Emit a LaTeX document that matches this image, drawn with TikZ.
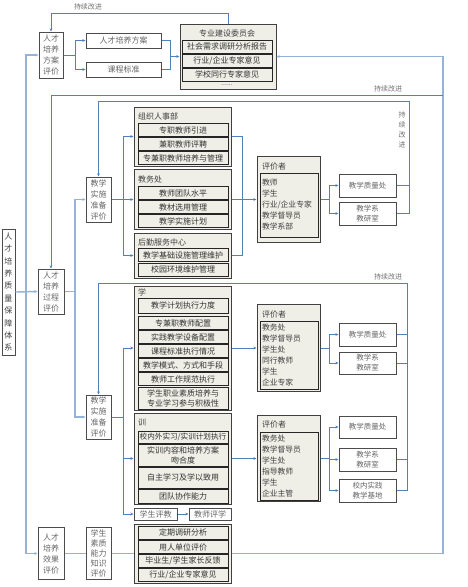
\documentclass[tikz,border=0pt]{standalone}
\usepackage{fontspec}
\setmainfont{Noto Sans CJK SC}
\usetikzlibrary{arrows.meta,positioning}

\definecolor{linkblue}{RGB}{79,129,189}
\definecolor{buslight}{RGB}{149,179,215}
\definecolor{panel}{RGB}{239,239,231}

\begin{document}
\begin{tikzpicture}[x=1pt,y=-1pt,>={Stealth[length=3.2pt,width=2.8pt]},
    plain box/.style={draw=black!70,line width=1pt,fill=white,inner sep=0pt,align=center,
                      text=black!60,font=\fontsize{8}{11}\selectfont},
    side box/.style={plain box,minimum width=25pt},
    group box/.style={draw=black!75,line width=1pt,fill=panel,inner sep=0pt,minimum width=97pt},
    item/.style={draw=black!85,line width=0.9pt,fill=panel,inner sep=0pt,align=center,text=black!80,
                 minimum width=90pt,minimum height=13pt,font=\fontsize{8}{10}\selectfont},
    head/.style={anchor=west,inner sep=0pt,text=black!75,font=\fontsize{8}{10}\selectfont},
    judge box/.style={group box,minimum width=63pt,minimum height=86pt},
    judge list/.style={draw=black!85,line width=0.9pt,fill=panel,inner sep=0pt,text width=54pt,align=left,
                       minimum width=58pt,text=black!75,font=\fontsize{7.8}{11}\selectfont},
    office/.style={plain box,minimum width=57pt,minimum height=23pt,font=\fontsize{7.5}{10}\selectfont},
    note/.style={inner sep=0pt,text=black!55,font=\fontsize{7}{9}\selectfont,align=center},
    link/.style={draw=linkblue,line width=0.8pt},
    bus/.style={draw=buslight,line width=1.4pt}]
  \fill[white] (0,0) rectangle (467,587);
  \useasboundingbox (0,0) rectangle (467,587);

  % top row
  \node[side box,minimum width=24pt,minimum height=46pt] (fa) at (51,55) {人才\\培养\\方案\\评价};
  \node[plain box,minimum width=75pt,minimum height=15pt] (pa) at (123.5,40.5) {人才培养方案};
  \node[plain box,minimum width=75pt,minimum height=15pt] (kc) at (123.5,69.5) {课程标准};
  \node[group box,minimum width=96pt,minimum height=65pt] (cm) at (228,56.5) {};
  \node[head,anchor=center] (cmt) at (227,33) {专业建设委员会};
  \node[item] (cm1) at (227,46.5) {社会需求调研分析报告};
  \node[item] (cm2) at (227,60.5) {行业/企业专家意见};
  \node[item] (cm3) at (227,74.5) {学校同行专家意见};
  \node[note,text=black!70] (cmd) at (227,85.5) {......};

  % left column
  \node[side box,minimum width=13pt,minimum height=126pt,font=\fontsize{8}{12.4}\selectfont,text=black!75] (sys) at (8.5,292) {人\\才\\培\\养\\质\\量\\保\\障\\体\\系};
  \node[side box,minimum width=26pt,minimum height=45pt] (gc) at (51,291.5) {人才\\培养\\过程\\评价};
  \node[side box,minimum width=26pt,minimum height=52pt] (ef) at (51,553.5) {人才\\培养\\效果\\评价};

  % second column
  \node[side box,minimum height=45pt] (zb1) at (98.5,199.5) {教学\\实施\\准备\\评价};
  \node[side box,minimum height=44pt] (zb2) at (98.5,417) {教学\\实施\\准备\\评价};
  \node[side box,minimum height=52pt,font=\fontsize{8}{10}\selectfont] (sz) at (98.5,553.5) {学生\\素质\\能力\\知识\\评价};

  % preparation groups
  \node[group box,minimum height=59pt] (g1) at (182.5,136.5) {};
  \node[head] (g1t) at (138,116) {组织人事部};
  \node[item] (g1a) at (183,130) {专职教师引进};
  \node[item] (g1b) at (183,144) {兼职教师评聘};
  \node[item] (g1c) at (183,158) {专兼职教师培养与管理};

  \node[group box,minimum height=60pt] (g2) at (182.5,199.5) {};
  \node[head] (g2t) at (138,179) {教务处};
  \node[item] (g2a) at (183,193) {教师团队水平};
  \node[item] (g2b) at (183,207) {教材选用管理};
  \node[item] (g2c) at (183,221) {教学实施计划};

  \node[group box,minimum height=45pt] (g3) at (182.5,255.5) {};
  \node[head] (g3t) at (138,242) {后勤服务中心};
  \node[item] (g3a) at (183,255) {教学基础设施管理维护};
  \node[item] (g3b) at (183,269.5) {校园环境维护管理};

  \node[judge box] (pj1) at (288.5,199.5) {};
  \node[head] (pj1t) at (262,166) {评价者};
  \node[judge list,minimum height=64pt] (pj1l) at (289,205) {教师\\学生\\行业/企业专家\\教学督导员\\教学系部};
  \node[office] (q1) at (367.5,185.5) {教学质量处};
  \node[office] (x1) at (367.5,213.5) {教学系\\教研室};

  % teaching groups
  \node[group box,minimum height=124pt] (xue) at (182.5,348) {};
  \node[head] (xuet) at (138,292) {学};
  \node[item,minimum height=15pt] (xa) at (183,305.5) {教学计划执行力度};
  \node[item] (xb) at (183,323) {专兼职教师配置};
  \node[item] (xc) at (183,337) {实践教学设备配置};
  \node[item] (xd) at (183,351) {课程标准执行情况};
  \node[item] (xe) at (183,365) {教学模式、方式和手段};
  \node[item] (xf) at (183,379) {教师工作规范执行};
  \node[item,minimum height=22pt] (xg) at (183,398) {学生职业素质培养与\\专业学习参与积极性};

  \node[group box,minimum height=91pt] (xun) at (182.5,458.5) {};
  \node[head] (xunt) at (138,423) {训};
  \node[item,minimum height=12pt,font=\fontsize{7.6}{10}\selectfont] (ya) at (183,437) {校内外实习/实训计划执行};
  \node[item,minimum height=22pt] (yb) at (183,455) {实训内容和培养方案\\吻合度};
  \node[item,minimum height=21pt] (yc) at (183,477.5) {自主学习及学以致用};
  \node[item,minimum height=14pt] (yd) at (183,496) {团队协作能力};

  \node[plain box,minimum width=43pt,minimum height=12pt] (pjs) at (155.5,514) {学生评教};
  \node[plain box,minimum width=42pt,minimum height=12pt] (pjx) at (210,514) {教师评学};

  \node[judge box,minimum height=87pt] (pj2) at (288.5,348) {};
  \node[head] (pj2t) at (262,314) {评价者};
  \node[judge list,minimum height=68pt] (pj2l) at (289,355) {教务处\\教学督导员\\学生处\\同行教师\\学生\\企业专家};
  \node[office] (q2) at (367.5,334.5) {教学质量处};
  \node[office,minimum height=22pt] (x2) at (367.5,363) {教学系\\教研室};

  \node[judge box] (pj3) at (288.5,458.5) {};
  \node[head] (pj3t) at (262,424) {评价者};
  \node[judge list,minimum height=68pt] (pj3l) at (289,466) {教务处\\教学督导员\\学生处\\指导教师\\学生\\企业主管};
  \node[office,minimum height=22pt] (q3) at (367.5,427) {教学质量处};
  \node[office] (x3) at (367.5,459.5) {教学系\\教研室};
  \node[office] (s3) at (367.5,490.5) {校内实践\\教学基地};

  % outcome group
  \node[group box,minimum height=59pt] (g4) at (182.5,553.5) {};
  \node[item] (g4a) at (183,532.5) {定期调研分析};
  \node[item] (g4b) at (183,547) {用人单位评价};
  \node[item] (g4c) at (183,561) {毕业生/学生家长反馈};
  \node[item] (g4d) at (183,575) {行业/企业专家意见};

  % labels
  \node[note] (lb1) at (88,7) {持续改进};
  \node[note] (lb2) at (388,89) {持续改进};
  \node[note,font=\fontsize{7}{10}\selectfont] (lb3) at (402,130) {持\\续\\改\\进};
  \node[note] (lb4) at (388,277) {持续改进};

  % plan loop
  \coordinate (t1) at (51,13);
  \draw[link,->] (cm.north) |- (t1) -- (fa.north);
  \coordinate (faj) at (75,55);
  \draw[link,->] (fa.east) -- (faj) |- (pa.west);
  \draw[link,->] (faj) |- (kc.west);
  \coordinate (cmj) at (170,56.5);
  \draw[link] (pa.east) -| (cmj);
  \draw[link] (kc.east) -| (cmj);
  \draw[link,->] (cmj) -- (cm.west);

  % outer loop
  \coordinate (rt) at (443,56.5);
  \coordinate (rm) at (443,95);
  \coordinate (rb) at (443,553.5);
  \draw[bus,->] (g4.east) -- (rb) -- (rt) -- (cm.east);
  \draw[link,->] (rm) -| (gc.north);

  % left bus
  \coordinate (bus) at (26,292);
  \draw[bus,->] (sys.east) -- (gc.west);
  \draw[bus,->] (bus) |- (fa.west);
  \draw[bus,->] (bus) |- (ef.west);
  \coordinate (gcj) at (75,291.5);
  \draw[bus] (gc.east) -- (gcj);
  \draw[bus,->] (gcj) |- (zb1.west);
  \draw[bus,->] (gcj) |- (zb2.west);

  % preparation
  \coordinate (zj1) at (123,199.5);
  \draw[link,->] (zb1.east) -- (zj1) |- (g1.west);
  \draw[link,->] (zj1) -- (g2.west);
  \draw[link,->] (zj1) |- (g3.west);
  \coordinate (gj1) at (242,199.5);
  \draw[link] (g1.east) -| (gj1);
  \draw[link] (g3.east) -| (gj1);
  \draw[link,->] (g2.east) -- (pj1.west);
  \coordinate (pq1) at (329,199.5);
  \draw[link,->] (pj1.east) -- (pq1) |- (q1.west);
  \draw[link,->] (pq1) |- (x1.west);
  \coordinate (l1) at (409,101);
  \draw[link] (q1.east) -- (q1.east -| l1);
  \draw[link,->] (x1.east) -| (l1) -| (zb1.north);

  % teaching
  \coordinate (zj2) at (123,417);
  \draw[link,->] (zb2.east) -- (zj2) |- (xue.west);
  \draw[link,->] (zj2) |- (xun.west);
  \draw[link,->] (zj2) |- (pjs.west);
  \draw[link,->] (pjs.east) -- (pjx.west);
  \draw[link,->] (xue.east) -- (pj2.west);
  \draw[link,->] (xun.east) -- (pj3.west);
  \coordinate (pq2) at (329,348);
  \draw[link,->] (pj2.east) -- (pq2) |- (q2.west);
  \draw[link,->] (pq2) |- (x2.west);
  \coordinate (pq3) at (329,458.5);
  \draw[link,->] (pj3.east) -- (pq3) |- (q3.west);
  \draw[link,->] (pq3) |- (x3.west);
  \draw[link,->] (pq3) |- (s3.west);
  \coordinate (l2) at (407,283);
  \draw[link] (q2.east) -- (q2.east -| l2);
  \draw[link] (x2.east) -- (x2.east -| l2);
  \draw[link] (x3.east) -- (x3.east -| l2);
  \draw[link,->] (s3.east) -| (l2) -| (zb2.north);

  % outcome
  \draw[bus] (ef.east) -- (sz.west);
  \draw[bus] (sz.east) -- (g4.west);
\end{tikzpicture}
\end{document}
